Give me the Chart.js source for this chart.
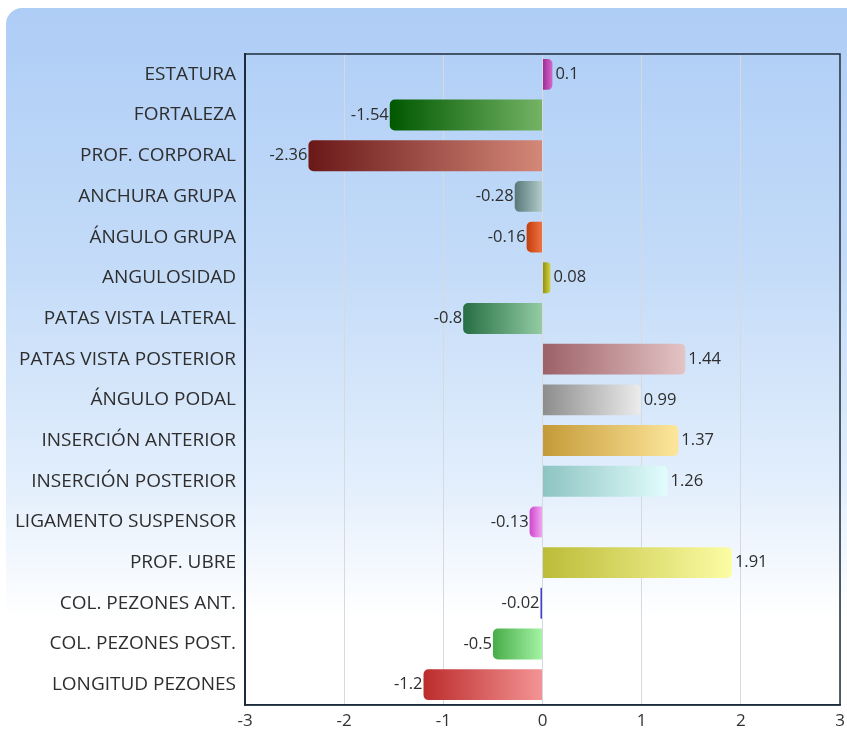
<!DOCTYPE html>
<html>
<head>
<meta charset="utf-8">
<script src="https://cdn.jsdelivr.net/npm/chart.js@4"></script>
<style>
  body { margin: 0; background: #fff; }
  #wrap { position: relative; width: 847px; height: 735px; }
  #panel {
    position: absolute; left: 6px; top: 8px; right: 0; bottom: 0;
    border-top-left-radius: 16px;
    background: linear-gradient(to bottom, #aecdf6 0%, #c3dbf8 35%, #e2eefc 65%, #ffffff 84%);
  }
  canvas { position: absolute; left: 0; top: 0; }
</style>
</head>
<body>
<div id="wrap">
  <div id="panel"></div>
  <canvas id="chart" width="847" height="735"></canvas>
</div>
<script>
// datos del gráfico
var categories = ["ESTATURA", "FORTALEZA", "PROF. CORPORAL", "ANCHURA GRUPA", "ÁNGULO GRUPA",
  "ANGULOSIDAD", "PATAS VISTA LATERAL", "PATAS VISTA POSTERIOR", "ÁNGULO PODAL",
  "INSERCIÓN ANTERIOR", "INSERCIÓN POSTERIOR", "LIGAMENTO SUSPENSOR", "PROF. UBRE",
  "COL. PEZONES ANT.", "COL. PEZONES POST.", "LONGITUD PEZONES"];
var values = [0.1, -1.54, -2.36, -0.28, -0.16, 0.08, -0.8, 1.44, 0.99, 1.37, 1.26, -0.13, 1.91, -0.02, -0.5, -1.2];
var xTicks = [-3, -2, -1, 0, 1, 2, 3];

// colores (izquierda oscuro -> derecha claro)
var darkColors = ["#9a2a98", "#005800", "#6a1818", "#587878", "#c43c0c", "#8c8c10", "#266e44", "#9c6068",
  "#8c8c8c", "#c49a38", "#8cc4c2", "#cc48cc", "#bcbc38", "#2a2ab8", "#48ac48", "#bc2c2c"];
var lightColors = ["#d468c8", "#74b464", "#d48878", "#b4cccc", "#f07444", "#d4d444", "#94cca4", "#e4c4c4",
  "#ececec", "#fde69c", "#e2fcfc", "#f4a8f4", "#fcfca4", "#5a5ae0", "#a4f4a4", "#f49494"];

var barFill = function(ctx){
  var chart = ctx.chart;
  var i = ctx.dataIndex;
  var x = chart.scales.x;
  if (!chart.chartArea || !x) return darkColors[i];
  var v = values[i];
  var x0 = x.getPixelForValue(Math.min(0, v));
  var x1 = x.getPixelForValue(Math.max(0, v));
  if (x1 - x0 < 1) x1 = x0 + 1;
  var g = chart.ctx.createLinearGradient(x0, 0, x1, 0);
  g.addColorStop(0, darkColors[i]);
  g.addColorStop(1, lightColors[i]);
  return g;
};

// etiquetas de valores y marco del área
var valueLabels = {
  id: "valueLabels",
  afterDatasetsDraw: function(chart){
    var c = chart.ctx;
    var meta = chart.getDatasetMeta(0);
    c.save();
    c.font = "16.5px 'Open Sans'";
    c.fillStyle = "#2e2e2e";
    c.textBaseline = "middle";
    meta.data.forEach(function(bar, i){
      var v = values[i];
      if (v >= 0) {
        c.textAlign = "left";
        c.fillText(String(v), bar.x + 3, bar.y);
      } else {
        c.textAlign = "right";
        c.fillText(String(v), bar.x - 1, bar.y);
      }
    });
    var a = chart.chartArea;
    c.strokeStyle = "#1e2c3c";
    c.lineWidth = 1.5;
    c.strokeRect(a.left, a.top, a.right - a.left, a.bottom - a.top);
    c.restore();
  }
};

var chart = new Chart(document.getElementById("chart"), {
  type: "bar",
  data: {
    labels: categories,
    datasets: [{
      data: values,
      backgroundColor: barFill,
      borderWidth: 0,
      borderRadius: 5,
      barPercentage: 0.76,
      categoryPercentage: 1
    }]
  },
  options: {
    indexAxis: "y",
    responsive: false,
    animation: false,
    layout: { padding: { top: 54, right: 7, left: 0, bottom: 0 } },
    plugins: { legend: { display: false }, tooltip: { enabled: false } },
    scales: {
      x: {
        min: xTicks[0],
        max: xTicks[xTicks.length - 1],
        afterBuildTicks: function(scale){
          scale.ticks = xTicks.map(function(v){ return { value: v }; });
        },
        grid: { color: "#d6d9de", drawTicks: false },
        border: { color: "#1e2c3c", width: 1.5 },
        ticks: { color: "#333", font: { family: "Open Sans", size: 17 }, padding: 6 },
        afterFit: function(scale){
          scale.height = 30;
          scale.paddingRight = 0;
          scale.paddingLeft = 0;
        }
      },
      y: {
        grid: { display: false, drawTicks: false },
        border: { color: "#1e2c3c", width: 2 },
        ticks: { color: "#2e2e2e", font: { family: "Open Sans", size: 19 }, padding: 9, autoSkip: false },
        afterFit: function(scale){ scale.width = 245; }
      }
    }
  },
  plugins: [valueLabels]
});
</script>
</body>
</html>
